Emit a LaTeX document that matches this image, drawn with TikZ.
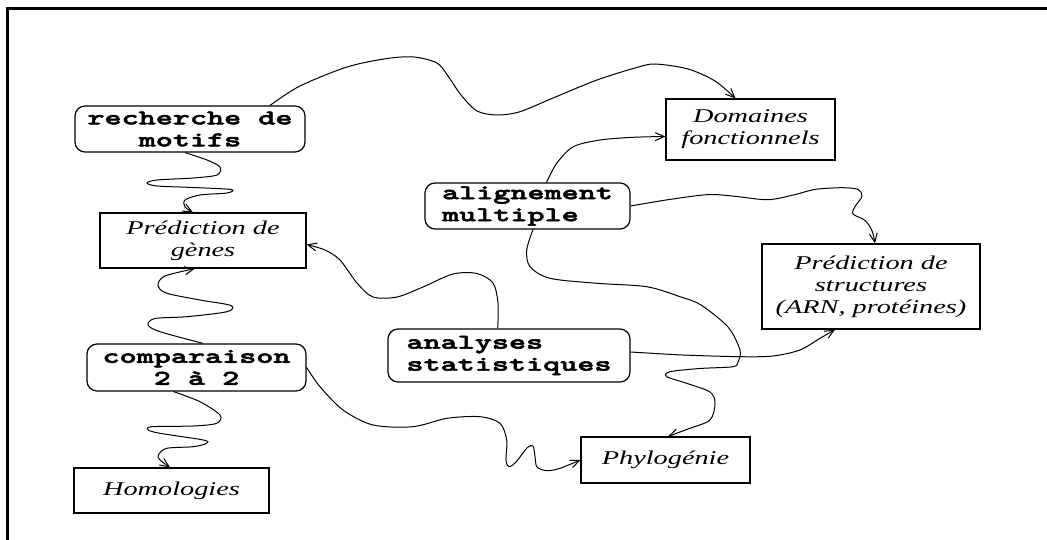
\documentclass[tikz,border=0pt]{standalone}
\usepackage{fontspec}
\usepackage{tikz}
\usetikzlibrary{arrows.meta}
\newfontfamily\motfont[FakeStretch=1.55,Extension=.otf,UprightFont=lmmono10-regular,BoldFont=lmmonolt10-bold,BoldFeatures={FakeBold=2.5}]{lmmono10-regular}
\newfontfamily\boitefont[FakeStretch=1.45]{Liberation Serif}

\begin{document}
\begin{tikzpicture}[x=1pt,y=-1pt,
            outil/.style={draw,line width=1.2pt,rounded corners=10pt,inner sep=0pt,
                font=\motfont\bfseries\fontsize{21}{22}\selectfont},
            tache/.style={draw,line width=1.2pt,inner sep=0pt,align=center,
                font=\boitefont\itshape\fontsize{19.5}{22}\selectfont},
            vague/.style={line width=1pt,-{Straight Barb[length=9pt,width=8pt]}}]
            \useasboundingbox (0,0) rectangle (1047,540);
            \draw[line width=3pt] (7.5,540) -- (7.5,8.5) -- (1047,8.5);
            \node[outil,minimum width=230,minimum height=46,align=center] at (190,129) (motifs) {recherche de\\motifs};
            \node[tache,minimum width=206,minimum height=55] at (203,240.5) (genes) {Prédiction de\\gènes};
            \node[outil,minimum width=219,minimum height=47,align=center] at (196.5,367.5) (comp) {comparaison\\2 à 2};
            \node[tache,minimum width=195,minimum height=45] at (171.5,490.5) (homol) {Homologies};
            \node[tache,minimum width=169,minimum height=61] at (750.5,129.5) (domaines) {Domaines\\fonctionnels};
            \node[outil,minimum width=205,minimum height=46,align=left] at (527.5,206) (align) {alignement\\multiple};
            \node[tache,minimum width=218,minimum height=85] at (871,286.5) (struct) {Prédiction de\\structures\\(ARN, protéines)};
            \node[outil,minimum width=242,minimum height=53,align=left] at (509,355.5) (analyses) {analyses\\statistiques};
            \node[tache,minimum width=169,minimum height=46] at (665.5,460) (phylo) {Phylogénie};
            \draw[vague] plot[smooth] coordinates {([xshift=80]motifs.north) (300,86) (347,67) (387,58.5) (414,57) (437,63) (448,76) (461,95) (477,111) (497,115) (520,111.7) (553,98) (597,80) (635,68) (655,64) (688,69) (715,81) ([xshift=-15]domaines.north)};
            \draw[vague] plot[smooth] coordinates {([xshift=-5]motifs.south) (207,160) (220,167) (217,175) (193,178) (157,180) (147,183) (157,186) (193,187.5) (231,189.5) (227,193) (200,195) (185,200) (185,207) ([xshift=-10]genes.north)};
            \draw[vague] plot[smooth] coordinates {([xshift=6.5]comp.north) (160,331.7) (148,325) (155,318.5) (187,316.7) (227,311.7) (231,305.5) (200,300) (166,293) (158,285) (165,276) ([xshift=-8]genes.south)};
            \draw[vague] plot[smooth] coordinates {([xshift=-23]comp.south) (200,401.7) (220,415) (216.7,423.3) (193.3,426) (151.7,426.7) (148.3,430) (160,433.3) (203.3,440) (206.7,443.3) (193.3,446.7) (166.7,448.3) (158.3,455) (160,460) ([xshift=-1.5]homol.north)};
            \draw[vague] plot[smooth] coordinates {(comp.east) (320,386.7) (343,410) (373,425) (413,426.7) (447,418.3) (480,416.7) (500,423.3) (506.7,440) (506,460) (509,466.7) (516,462) (527,448) (533,446) (535,456.7) (537,467) (547,470.7) (560,468.3) (phylo.west)};
            \draw[vague] plot[smooth] coordinates {([xshift=-11.3]analyses.north) (498,303) (493,283) (477,273.5) (453,274) (423,287) (397,297) (373,297) (357,283) (340,260) (325,250) ([yshift=-4]genes.east)};
            \draw[vague] plot[smooth] coordinates {([xshift=19]align.north) (556.7,163.3) (573.3,146.7) (600,140) (633,137.3) ([yshift=-7]domaines.west)};
            \draw[vague] plot[smooth] coordinates {(align.east) (668,199.7) (708,194.6) (735,196.3) (768,199.7) (795,194.6) (815,189.4) (842,187.7) (858,189.4) (862,196.3) (855,206.6) (853,214) (865,220.4) (872,230.7) ([xshift=4]struct.north)};
            \draw[vague] plot[smooth] coordinates {([xshift=5.5]align.south) (526.7,250) (530,266.7) (550,278.3) (596.7,283.3) (646.7,286.7) (680,296.7) (701,305) (728,327) (740,350) (738,362) (733,366.7) (700,368.5) (670,371.7) (666.7,376.7) (686.7,383.3) (710,392) (715,403.3) (710,420) (688,429) ([xshift=2.5]phylo.north)};
            \draw[vague] plot[smooth] coordinates {([yshift=3.5]analyses.east) (683,355) (740,356.7) (773,356) (800,350) (820,338.3) ([xshift=-36]struct.south)};
        \end{tikzpicture}
\end{document}
